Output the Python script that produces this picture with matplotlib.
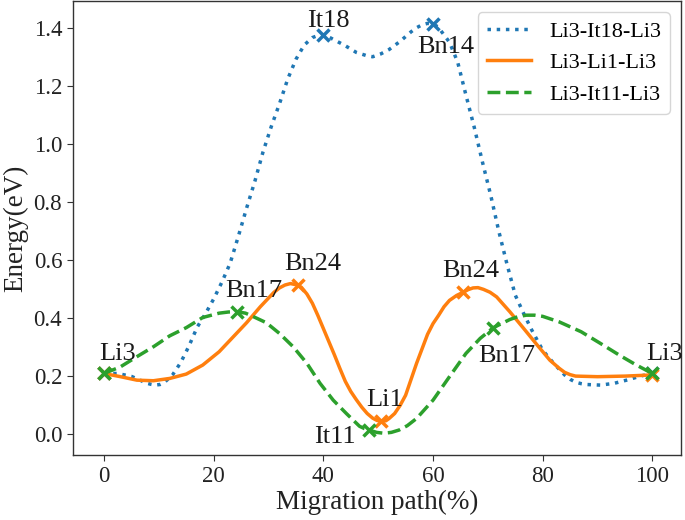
import matplotlib
matplotlib.use("Agg")
import matplotlib.pyplot as plt

plt.rcParams['font.family'] = ['Liberation Serif', 'DejaVu Serif']
plt.rcParams['mathtext.fontset'] = 'stix'

# ---- data ----
series_names = ["Li3-It18-Li3", "Li3-Li1-Li3", "Li3-It11-Li3"]

blue_x = [0, 2.5, 5, 6.5, 7.5, 8.5, 9.3, 10.2, 11, 12.5, 14, 15.5, 17, 18.5, 20, 21.5,
          23, 24.5, 26, 27.5, 29, 30.5, 32, 33.5, 35, 36.5, 38, 39, 40, 41, 42, 44, 46,
          48, 49, 50.5, 52, 54, 56, 57, 58, 59, 60, 61, 61.5, 63, 64.5, 66, 67.5, 69,
          70.5, 72, 73.5, 75, 76.5, 78, 80, 82, 84, 85, 86, 87, 88, 90.5, 93, 95.5, 98, 100]
blue_y = [0.21, 0.21, 0.2, 0.188, 0.178, 0.173, 0.17, 0.172, 0.179, 0.205, 0.248, 0.305,
          0.37, 0.416, 0.467, 0.525, 0.59, 0.683, 0.78, 0.872, 0.974, 1.061, 1.14, 1.225,
          1.293, 1.342, 1.368, 1.375, 1.377, 1.37, 1.36, 1.34, 1.317, 1.305, 1.302, 1.312,
          1.327, 1.355, 1.388, 1.402, 1.412, 1.417, 1.415, 1.404, 1.39, 1.352, 1.283, 1.17,
          1.06, 0.94, 0.826, 0.70, 0.586, 0.48, 0.418, 0.36, 0.29, 0.245, 0.205, 0.19,
          0.18, 0.175, 0.172, 0.17, 0.176, 0.188, 0.202, 0.21]

orange_x = [0, 3, 6, 9, 12, 15, 18, 21, 23.5, 26, 28.5, 31, 32, 33, 34, 35.3, 36, 37,
            38, 39, 40, 41, 42, 43, 44, 45, 46, 47, 48, 49, 49.8, 50.6, 51.4, 52, 53,
            54, 55, 56, 57, 58, 59, 60, 61, 62, 63, 64.3, 65.5, 66.4, 67.3, 68.2, 69.2,
            70.4, 71.6, 74, 76.5, 79, 81.3, 83, 84, 85, 86, 90, 95, 100]
orange_y = [0.21, 0.199, 0.187, 0.185, 0.193, 0.208, 0.239, 0.285, 0.335, 0.385, 0.44,
            0.49, 0.505, 0.515, 0.52, 0.515, 0.507, 0.484, 0.452, 0.41, 0.365, 0.32, 0.275,
            0.228, 0.183, 0.148, 0.12, 0.094, 0.072, 0.056, 0.048, 0.045, 0.047, 0.055,
            0.072, 0.1, 0.135, 0.19, 0.245, 0.295, 0.345, 0.382, 0.41, 0.44, 0.462, 0.479,
            0.49, 0.499, 0.505, 0.506, 0.5, 0.49, 0.474, 0.423, 0.366, 0.308, 0.256, 0.228,
            0.214, 0.206, 0.201, 0.199, 0.201, 0.205]

green_x = [0, 3, 6, 9, 12, 15, 18, 21, 22.7, 24.3, 25.8, 27, 29.6, 32, 34.5, 37, 39.4,
           41.8, 44.2, 46.6, 47.5, 48.4, 49.7, 51, 52.4, 53.8, 55.3, 57, 60, 63, 66,
           68.6, 71, 74, 75.5, 77, 78.5, 80, 83, 87, 90.5, 94, 97, 100]
green_y = [0.21, 0.233, 0.268, 0.302, 0.34, 0.368, 0.403, 0.418, 0.422, 0.423, 0.418,
           0.408, 0.385, 0.348, 0.302, 0.245, 0.176, 0.118, 0.072, 0.028, 0.02, 0.015,
           0.007, 0.004, 0.007, 0.015, 0.03, 0.055, 0.118, 0.199, 0.279, 0.331, 0.368,
           0.396, 0.406, 0.411, 0.411, 0.407, 0.388, 0.354, 0.314, 0.273, 0.24, 0.21]

blue_mx = [0, 40, 60, 100]
blue_my = [0.21, 1.377, 1.415, 0.21]
orange_mx = [0, 35.3, 50.6, 65.5, 100]
orange_my = [0.21, 0.515, 0.045, 0.49, 0.205]
green_mx = [0, 24.3, 48.4, 71, 100]
green_my = [0.21, 0.423, 0.015, 0.368, 0.21]

labels_text = ["It18", "Bn14", "Bn24", "Bn17", "Li3", "Li1", "It11", "Bn24", "Bn17", "Li3"]
labels_pos = [(40.9, 1.405), (62.3, 1.314), (38.0, 0.567), (27.4, 0.472), (2.5, 0.256),
              (51.1, 0.098), (42.1, -0.031), (66.9, 0.543), (73.5, 0.25), (102.3, 0.256)]

xticks = [0, 20, 40, 60, 80, 100]
yticks = [0.0, 0.2, 0.4, 0.6, 0.8, 1.0, 1.2, 1.4]

# ---- figure ----
fig = plt.figure(figsize=(6.85, 5.2), dpi=100)
ax = fig.add_axes([0.107, 0.125, 0.887, 0.873])

c_blue, c_orange, c_green = '#1f77b4', '#ff7f0e', '#2ca02c'
lw = 2.5
ax.plot(blue_x, blue_y, ':', color=c_blue, lw=lw, label=series_names[0])
ax.plot(blue_mx, blue_my, 'x', color=c_blue, ms=9, mew=2.5)
ax.plot(orange_x, orange_y, '-', color=c_orange, lw=lw, label=series_names[1])
ax.plot(orange_mx, orange_my, 'x', color=c_orange, ms=9, mew=2.5)
ax.plot(green_x, green_y, '--', color=c_green, lw=lw, label=series_names[2])
ax.plot(green_mx, green_my, 'x', color=c_green, ms=9, mew=2.5)

for t, (x, y) in zip(labels_text, labels_pos):
    ax.text(x, y, t, ha='center', va='baseline', fontsize=19, color='#1a1a1a')

ax.set_xlim(-5.6, 105.2)
ax.set_ylim(-0.071, 1.494)
ax.set_xticks(xticks)
ax.set_yticks(yticks)
ax.set_yticklabels([f"{v:.1f}" for v in yticks])
ax.tick_params(labelsize=16.5, length=4.5, color='#333333', labelcolor='#222222')
for s in ax.spines.values():
    s.set_color('#333333')
    s.set_linewidth(1.0)

ax.set_xlabel("Migration path(%)", fontsize=19.5, labelpad=2, color='#222222')
ax.set_ylabel("Energy(eV)", fontsize=19.5, labelpad=4, color='#222222')

ax.legend(loc='upper right', fontsize=16)

fig.savefig("out.png", dpi=100)
